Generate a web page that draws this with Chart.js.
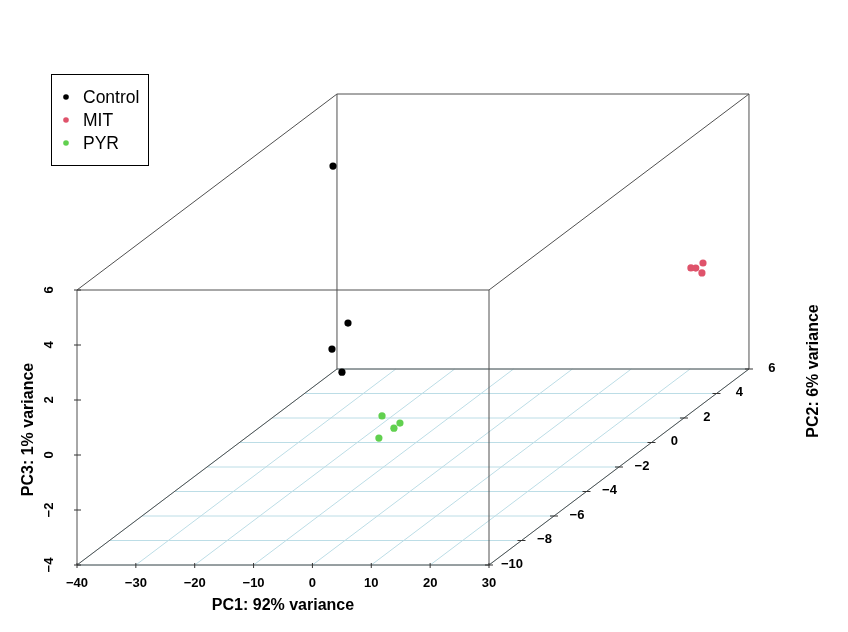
<!DOCTYPE html>
<html>
<head>
<meta charset="utf-8">
<script src="https://cdn.jsdelivr.net/npm/chart.js@4.4.1/dist/chart.umd.min.js"></script>
<style>
  body { margin: 0; background: #fff; }
  #wrap { width: 848px; height: 632px; }
</style>
</head>
<body>
<div id="wrap"><canvas id="pca" width="848" height="632"></canvas></div>
<script>
// PCA scores per group (PC1, PC2, PC3)
const groupNames = ['Control', 'MIT', 'PYR'];
const groupColours = ['#000000', '#DF536B', '#61D04F'];

const controlPC1 = [-34.6, -30.95, -34.5, -32.25];
const controlPC2 = [3.8, 3.4, 3.7, 3.5];
const controlPC3 = [4.36, -1.17, -2.25, -3.0];

const mitPC1 = [24.0, 25.1, 25.5, 26.7];
const mitPC2 = [4.6, 4.5, 4.8, 4.3];
const mitPC3 = [0.30, 0.34, 0.39, 0.25];

const pyrPC1 = [6.3, 6.6, 8.6, 9.9];
const pyrPC2 = [-8.0, -8.3, -8.1, -8.2];
const pyrPC3 = [0.53, -0.14, 0.13, 0.36];

// axis ticks
const pc1Ticks = [-40, -30, -20, -10, 0, 10, 20, 30];
const pc2Ticks = [-10, -8, -6, -4, -2, 0, 2, 4, 6];
const pc3Ticks = [-4, -2, 0, 2, 4, 6];

const pc1Title = 'PC1: 92% variance';
const pc2Title = 'PC2: 6% variance';
const pc3Title = 'PC3: 1% variance';

const xr = [pc1Ticks[0], pc1Ticks[pc1Ticks.length - 1]];
const yr = [pc2Ticks[0], pc2Ticks[pc2Ticks.length - 1]];
const zr = [pc3Ticks[0], pc3Ticks[pc3Ticks.length - 1]];

// shift of the back face, in front-face widths / heights
const DEPTH_U = 0.631;
const DEPTH_V = 0.7127;

function project(a, b, c) {
    const f = (b - yr[0]) / (yr[1] - yr[0]);
    return {
        x: (a - xr[0]) / (xr[1] - xr[0]) + f * DEPTH_U,
        y: (c - zr[0]) / (zr[1] - zr[0]) + f * DEPTH_V
    };
}

function toPoints(p1, p2, p3) {
    return p1.map((v, i) => project(v, p2[i], p3[i]));
}

const gridColour = '#bcdde6';
const boxColour = '#505050';
const FONT = '"Liberation Sans", Arial, Helvetica, sans-serif';

function minusSign(v) {
    return String(v).replace('-', '\u2212');
}

const box3d = {
    id: 'box3d',
    beforeDatasetsDraw(chart) {
        const ctx = chart.ctx;
        const sx = chart.scales.x, sy = chart.scales.y;
        const P = (a, b, c) => {
            const p = project(a, b, c);
            return [sx.getPixelForValue(p.x), sy.getPixelForValue(p.y)];
        };
        const seg = (p, q) => {
            ctx.beginPath();
            ctx.moveTo(p[0], p[1]);
            ctx.lineTo(q[0], q[1]);
            ctx.stroke();
        };

        ctx.save();
        ctx.lineWidth = 1;

        // floor grid
        ctx.strokeStyle = gridColour;
        pc2Ticks.forEach(b => seg(P(xr[0], b, zr[0]), P(xr[1], b, zr[0])));
        pc1Ticks.forEach(a => seg(P(a, yr[0], zr[0]), P(a, yr[1], zr[0])));

        // box edges
        ctx.strokeStyle = boxColour;
        [yr[0], yr[1]].forEach(b => {
            seg(P(xr[0], b, zr[0]), P(xr[1], b, zr[0]));
            seg(P(xr[1], b, zr[0]), P(xr[1], b, zr[1]));
            seg(P(xr[1], b, zr[1]), P(xr[0], b, zr[1]));
            seg(P(xr[0], b, zr[1]), P(xr[0], b, zr[0]));
        });
        [[xr[0], zr[0]], [xr[1], zr[0]], [xr[1], zr[1]], [xr[0], zr[1]]].forEach(([a, c]) => {
            seg(P(a, yr[0], c), P(a, yr[1], c));
        });

        // tick marks
        ctx.strokeStyle = '#333';
        pc1Ticks.forEach(a => {
            const p = P(a, yr[0], zr[0]);
            seg([p[0], p[1] - 2], [p[0], p[1] + 3]);
        });
        pc3Ticks.forEach(c => {
            const p = P(xr[0], yr[0], c);
            seg([p[0] - 3, p[1]], [p[0] + 4, p[1]]);
        });
        pc2Ticks.forEach(b => {
            const p = P(xr[1], b, zr[0]);
            seg([p[0] - 4, p[1]], [p[0] + 4, p[1]]);
        });

        // tick labels
        ctx.fillStyle = '#000';
        ctx.font = 'bold 13px ' + FONT;
        ctx.textAlign = 'center';
        ctx.textBaseline = 'middle';
        pc1Ticks.forEach(a => {
            const p = P(a, yr[0], zr[0]);
            ctx.fillText(minusSign(a), p[0], p[1] + 18);
        });
        pc2Ticks.forEach(b => {
            const p = P(xr[1], b, zr[0]);
            ctx.fillText(minusSign(b), p[0] + 23, p[1] - 1);
        });
        pc3Ticks.forEach(c => {
            const p = P(xr[0], yr[0], c);
            ctx.save();
            ctx.translate(p[0] - 28, p[1]);
            ctx.rotate(-Math.PI / 2);
            ctx.fillText(minusSign(c), 0, 0);
            ctx.restore();
        });

        // axis titles
        ctx.font = 'bold 16px ' + FONT;
        const f0 = P(xr[0], yr[0], zr[0]), f1 = P(xr[1], yr[0], zr[0]);
        ctx.fillText(pc1Title, (f0[0] + f1[0]) / 2, f0[1] + 41);

        const t0 = P(xr[0], yr[0], zr[1]);
        ctx.save();
        ctx.translate(f0[0] - 48, (f0[1] + t0[1]) / 2 + 2);
        ctx.rotate(-Math.PI / 2);
        ctx.fillText(pc3Title, 0, 0);
        ctx.restore();

        const b1 = P(xr[1], yr[1], zr[0]);
        ctx.save();
        ctx.translate(b1[0] + 65, b1[1] + 2);
        ctx.rotate(-Math.PI / 2);
        ctx.fillText(pc2Title, 0, 0);
        ctx.restore();

        ctx.restore();
    },
    afterDraw(chart) {
        // legend box, top left
        const ctx = chart.ctx;
        ctx.save();
        ctx.strokeStyle = '#000';
        ctx.lineWidth = 1;
        ctx.strokeRect(51.5, 74.5, 97, 91);
        ctx.font = '17.5px ' + FONT;
        ctx.textAlign = 'left';
        ctx.textBaseline = 'middle';
        chart.data.datasets.forEach((ds, i) => {
            const yy = 97 + i * 23;
            ctx.fillStyle = ds.backgroundColor;
            ctx.beginPath();
            ctx.arc(66, yy, 2.8, 0, Math.PI * 2);
            ctx.fill();
            ctx.fillStyle = '#000';
            ctx.fillText(ds.label, 83, yy + 1);
        });
        ctx.restore();
    }
};

const seriesPoints = [
    toPoints(controlPC1, controlPC2, controlPC3),
    toPoints(mitPC1, mitPC2, mitPC3),
    toPoints(pyrPC1, pyrPC2, pyrPC3)
];

// scales chosen so the front face sits where it does in the figure
const frontLeft = 77, frontWidth = 412, frontBottom = 565, frontHeight = 275;

new Chart(document.getElementById('pca'), {
    type: 'scatter',
    data: {
        datasets: groupNames.map((name, i) => ({
            label: name,
            data: seriesPoints[i],
            backgroundColor: groupColours[i],
            borderColor: groupColours[i],
            pointRadius: 3.6,
            pointBorderWidth: 0,
            pointHoverRadius: 3.6
        }))
    },
    options: {
        responsive: false,
        animation: false,
        devicePixelRatio: 1,
        layout: { padding: 0, autoPadding: false },
        plugins: {
            legend: { display: false },
            tooltip: { enabled: false }
        },
        scales: {
            x: {
                type: 'linear',
                display: false,
                min: -frontLeft / frontWidth,
                max: (848 - frontLeft) / frontWidth
            },
            y: {
                type: 'linear',
                display: false,
                min: -(632 - frontBottom) / frontHeight,
                max: frontBottom / frontHeight
            }
        }
    },
    plugins: [box3d]
});
</script>
</body>
</html>
